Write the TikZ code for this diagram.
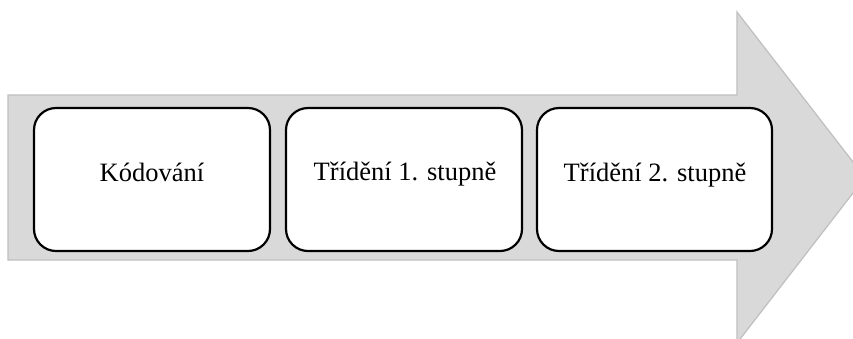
\documentclass[tikz,border=0pt]{standalone}
\usepackage{fontspec}
\setmainfont{Liberation Serif}
\definecolor{arrowfill}{HTML}{D9D9D9}
\definecolor{arrowline}{HTML}{BFBFBF}
\begin{document}
\begin{tikzpicture}[x=1bp,y=-1bp,
  stagebox/.style={draw=black,line width=2.2bp,fill=white,rounded corners=22bp},
  stagetext/.style={anchor=base,inner sep=0pt,font=\fontsize{26.5bp}{30bp}\selectfont}]
\useasboundingbox (0,0) rectangle (853,338);
\clip (0,0) rectangle (853,338);
\draw[fill=arrowfill,draw=arrowline,line width=1.2bp]
  (8,95) -- (737,95) -- (737,12) -- (865,177.5) -- (737,343) -- (737,260) -- (8,260) -- cycle;
\draw[stagebox] (34,108) rectangle (270,251);
\draw[stagebox] (286,108) rectangle (522,251);
\draw[stagebox] (537,108) rectangle (772,251);
\node[stagetext] (t1) at (152,181) {Kódování};
\node[stagetext] (t2) at (405,180) {Třídění 1. stupně};
\node[stagetext] (t3) at (655,181) {Třídění 2. stupně};
\end{tikzpicture}
\end{document}
